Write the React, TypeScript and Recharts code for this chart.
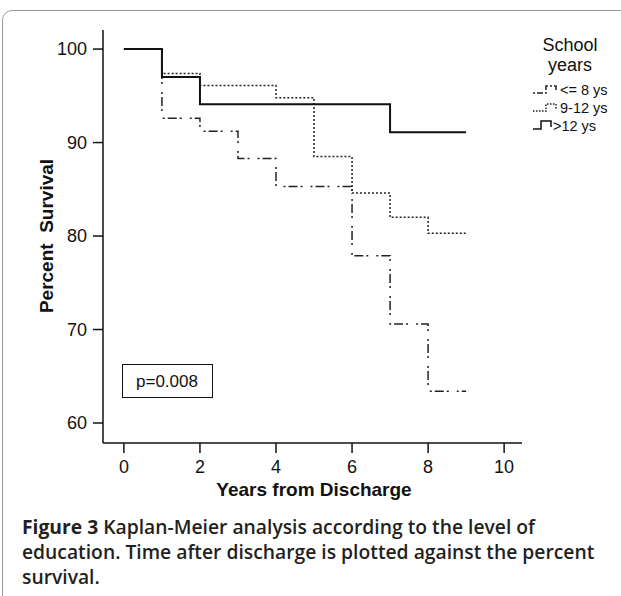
import React from 'react';
import { LineChart, Line, XAxis, YAxis } from 'recharts';

const years = [0, 1, 2, 3, 4, 5, 6, 7, 8, 9];
const upTo8 = [100, 92.6, 91.2, 88.3, 85.3, 85.3, 77.9, 70.6, 63.4, 63.4];
const from9to12 = [100, 97.4, 96.1, 96.1, 94.8, 88.5, 84.6, 82.0, 80.3, 80.3];
const over12 = [100, 97.0, 94.1, 94.1, 94.1, 94.1, 94.1, 91.1, 91.1, 91.1];
const xTicks = [0, 2, 4, 6, 8, 10];
const yTicks = [60, 70, 80, 90, 100];
const seriesNames = ['<= 8 ys', '9-12 ys', '>12 ys'];
const legendTitle = ['School', 'years'];
const xTitle = 'Years from Discharge';
const yTitle = 'Percent  Survival';
const pText = 'p=0.008';
const captionBold = 'Figure 3';
const captionLines = [
  ' Kaplan-Meier analysis according to the level of',
  'education. Time after discharge is plotted against the percent',
  'survival.',
];

const data = years.map((t, i) => ({ t, a: upTo8[i], b: from9to12[i], c: over12[i] }));

const X_DOMAIN: [number, number] = [-0.55, 10.47];
const Y_DOMAIN: [number, number] = [57.86, 102.04];
const ARIAL = '"Liberation Sans", Arial, sans-serif';
const INK = '#111';
const DASHDOT = '2 3 9 3 2 8';
const DOTTED = '2 2';

export default function App() {
  return (
    <div style={{ position: 'absolute', left: 0, top: 0, width: 621, height: 596, overflow: 'hidden', background: '#fff' }}>
      <div style={{ position: 'absolute', left: 2, top: 10, width: 680, height: 640, border: '1px solid #9a9a9a', borderRadius: 10, boxSizing: 'border-box' }} />
      <div style={{ position: 'absolute', left: 0, top: 0 }}>
        <LineChart width={621} height={596} data={data} margin={{ top: 30, right: 99, bottom: 113, left: 43 }}>
          <XAxis
            dataKey="t"
            type="number"
            domain={X_DOMAIN}
            allowDataOverflow
            ticks={xTicks}
            height={40}
            tickSize={10}
            tickMargin={7}
            axisLine={{ stroke: INK, strokeWidth: 1.5 }}
            tickLine={{ stroke: INK, strokeWidth: 1.5 }}
            tick={{ fill: INK, fontSize: 18, fontFamily: ARIAL }}
          />
          <XAxis
            xAxisId="top"
            orientation="top"
            dataKey="t"
            type="number"
            domain={X_DOMAIN}
            allowDataOverflow
            height={0}
            tick={false}
            tickLine={false}
            axisLine={{ stroke: '#333', strokeWidth: 1 }}
          />
          <YAxis
            type="number"
            domain={Y_DOMAIN}
            allowDataOverflow
            ticks={yTicks}
            width={60}
            tickSize={10}
            tickMargin={6}
            axisLine={{ stroke: INK, strokeWidth: 1.5 }}
            tickLine={{ stroke: INK, strokeWidth: 1.5 }}
            tick={{ fill: INK, fontSize: 18, fontFamily: ARIAL }}
          />
          <YAxis
            yAxisId="right"
            orientation="right"
            type="number"
            domain={Y_DOMAIN}
            allowDataOverflow
            width={0}
            tick={false}
            tickLine={false}
            axisLine={{ stroke: '#777', strokeWidth: 1 }}
          />
          <Line type="stepAfter" dataKey="a" name={seriesNames[0]} stroke="#222" strokeWidth={1.5} strokeDasharray={DASHDOT} dot={false} isAnimationActive={false} />
          <Line type="stepAfter" dataKey="b" name={seriesNames[1]} stroke="#222" strokeWidth={1.5} strokeDasharray={DOTTED} dot={false} isAnimationActive={false} />
          <Line type="stepAfter" dataKey="c" name={seriesNames[2]} stroke="#111" strokeWidth={2} dot={false} isAnimationActive={false} />
        </LineChart>
      </div>
      <svg width={621} height={596} style={{ position: 'absolute', left: 0, top: 0, pointerEvents: 'none' }}>
        <text x={46} y={236} transform="rotate(-90 46 236)" textAnchor="middle" dominantBaseline="central" fontFamily={ARIAL} fontWeight="bold" fontSize={19} fill={INK} style={{ whiteSpace: 'pre' }}>{yTitle}</text>
        <text x={314} y={489} textAnchor="middle" dominantBaseline="central" fontFamily={ARIAL} fontWeight="bold" fontSize={19} fill={INK}>{xTitle}</text>
        <rect x={122.5} y={364.5} width={90} height={33} fill="#fff" stroke={INK} strokeWidth={1} />
        <text x={167} y={381} textAnchor="middle" dominantBaseline="central" fontFamily={ARIAL} fontSize={17} fill={INK}>{pText}</text>
        <text x={570} y={45} textAnchor="middle" dominantBaseline="central" fontFamily={ARIAL} fontSize={18} fill={INK}>{legendTitle[0]}</text>
        <text x={570} y={65} textAnchor="middle" dominantBaseline="central" fontFamily={ARIAL} fontSize={18} fill={INK}>{legendTitle[1]}</text>
        <path d="M533,93 H546 V86 H556 V92" fill="none" stroke="#222" strokeWidth={1.5} strokeDasharray="2 2 6 2" />
        <text x={560} y={90} dominantBaseline="central" fontFamily={ARIAL} fontSize={14.5} fill={INK}>{seriesNames[0]}</text>
        <path d="M533,111 H546 V104 H556 V110" fill="none" stroke="#222" strokeWidth={1.5} strokeDasharray="1.5 1.5" />
        <text x={560} y={108} dominantBaseline="central" fontFamily={ARIAL} fontSize={14.5} fill={INK}>{seriesNames[1]}</text>
        <path d="M533,129 H541 V121 H551 V127" fill="none" stroke="#111" strokeWidth={1.5} />
        <text x={553} y={126} dominantBaseline="central" fontFamily={ARIAL} fontSize={14.5} fill={INK}>{seriesNames[2]}</text>
      </svg>
      <div style={{ position: 'absolute', left: 22, top: 514, width: 598, fontFamily: '"Open Sans", sans-serif', fontSize: 19.3, lineHeight: '25px', fontWeight: 600, color: '#231f20', whiteSpace: 'nowrap' }}>
        <div><span style={{ fontWeight: 700 }}>{captionBold}</span>{captionLines[0]}</div>
        <div>{captionLines[1]}</div>
        <div>{captionLines[2]}</div>
      </div>
    </div>
  );
}
